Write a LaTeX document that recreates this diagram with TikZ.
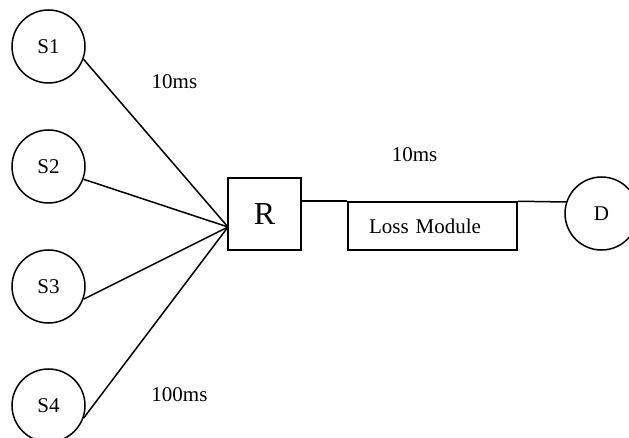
\documentclass[tikz,border=0pt]{standalone}
\usepackage{fontspec}
\setmainfont{Liberation Serif}
\begin{document}
\begin{tikzpicture}[x=1pt,y=-1pt,
  every node/.style={font=\fontsize{21}{25}\selectfont},
  src/.style={circle,draw,line width=1.5pt,minimum size=73pt,inner sep=0pt},
  boxnode/.style={rectangle,draw,line width=1.5pt,inner sep=0pt},
  link/.style={line width=1.5pt},
  lbl/.style={inner sep=0pt}]
\useasboundingbox (0,0) rectangle (629,438);
\node[src] (S1) at (48.5,46.5) {S1};
\node[src] (S2) at (48.5,166.5) {S2};
\node[src] (S3) at (48.5,286.5) {S3};
\node[src] (S4) at (48.5,405.5) {S4};
\node[boxnode,minimum width=73pt,minimum height=72pt,font=\fontsize{32}{38}\selectfont] (R) at (264.5,214) {R};
\node[boxnode,minimum width=169pt,minimum height=48pt,text width=127pt,align=left,inner xsep=21pt] (LM) at (432.5,226) {Loss Module};
\node[src] (D) at (601.5,213.5) {D};
\coordinate (hub) at (228,227);
\draw[link] (S1.-20) -- (hub);
\draw[link] (S2.-20) -- (hub);
\draw[link] (S3.-20) -- (hub);
\draw[link] (S4.-20) -- (hub);
\draw[link] (R.east |- LM.north) -- (LM.north west);
\draw[link] (LM.north east) -- (D.162.5);
\node[lbl] (L1) at (174.5,82) {10ms};
\node[lbl] (L2) at (414.5,155) {10ms};
\node[lbl] (L3) at (179.5,395) {100ms};
\end{tikzpicture}
\end{document}
